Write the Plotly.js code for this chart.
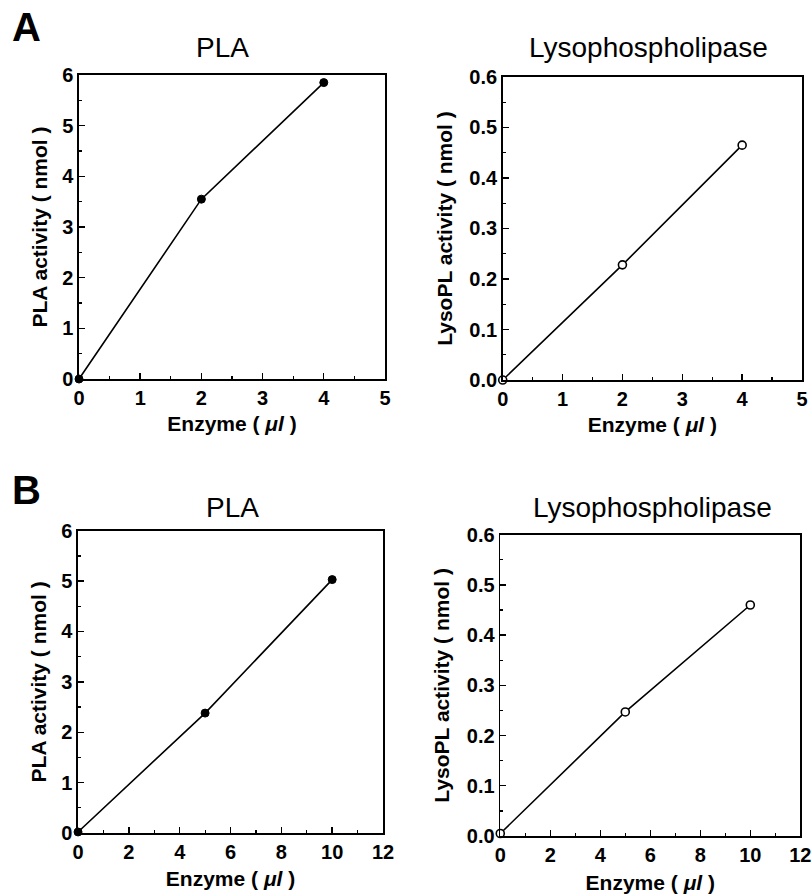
<!DOCTYPE html>
<html>
<head>
<meta charset="utf-8">
<script src="https://cdn.plot.ly/plotly-3.0.1.min.js"></script>
<style>html,body{margin:0;padding:0;background:#fff;}#chart{width:812px;height:895px;}</style>
</head>
<body>
<div id="chart"></div>
<script>
// ---- Data ----
const panelTitles = ["PLA", "Lysophospholipase", "PLA", "Lysophospholipase"];
const panelLetters = ["A", "B"];
const xTitle = "Enzyme ( <i>μl</i> )";
const yTitlePLA = "PLA activity ( nmol )";
const yTitleLyso = "LysoPL activity ( nmol )";

const enzymeA = [0, 2, 4];
const plaA = [0, 3.55, 5.85];
const lysoA = [0, 0.228, 0.465];

const enzymeB = [0, 5, 10];
const plaB = [0.02, 2.38, 5.03];
const lysoB = [0.005, 0.247, 0.46];

const xRangeA = [0, 5];
const xRangeB = [0, 12];
const yRangePLA = [0, 6];
const yRangeLyso = [0, 0.6];

// ---- Styles ----
const FONT = "Liberation Sans, Arial, Helvetica, sans-serif";
const lineStyle = {color: "#000", width: 1.6};
const filled = {symbol: "circle", size: 8, color: "#000", line: {color: "#000", width: 1}};
const open = {symbol: "circle", size: 8, color: "#fff", line: {color: "#000", width: 1.6}};

const traces = [
  {x: enzymeA, y: plaA, xaxis: "x", yaxis: "y", mode: "lines+markers", line: lineStyle, marker: filled, cliponaxis: false},
  {x: enzymeA, y: lysoA, xaxis: "x2", yaxis: "y2", mode: "lines+markers", line: lineStyle, marker: open, cliponaxis: false},
  {x: enzymeB, y: plaB, xaxis: "x3", yaxis: "y3", mode: "lines+markers", line: lineStyle, marker: filled, cliponaxis: false},
  {x: enzymeB, y: lysoB, xaxis: "x4", yaxis: "y4", mode: "lines+markers", line: lineStyle, marker: open, cliponaxis: false}
];

function axis(domain, anchor, range, dtick, minor, fmt, title, standoff) {
  return {
    domain: domain, anchor: anchor, range: range, dtick: dtick, tick0: 0, tickmode: "linear",
    tickformat: fmt,
    showline: true, mirror: true, linecolor: "#000", linewidth: 1.6,
    ticks: "inside", ticklen: 6, tickwidth: 1.4, tickcolor: "#000",
    minor: {ticks: "inside", ticklen: 3, tickwidth: 1.2, dtick: minor, tickcolor: "#000"},
    showgrid: false, zeroline: false, automargin: false, fixedrange: true,
    tickfont: {family: FONT, size: 20, color: "#000", weight: "bold"},
    title: {text: title, standoff: standoff, font: {family: FONT, size: 21, color: "#000", weight: "bold"}}
  };
}

const layout = {
  width: 812, height: 895,
  margin: {l: 0, r: 0, t: 0, b: 0},
  paper_bgcolor: "#fff", plot_bgcolor: "#fff",
  showlegend: false,
  xaxis: axis([0.0973, 0.4741], "y", xRangeA, 1, 0.5, "d", xTitle, 8),
  yaxis: axis([0.5765, 0.9162], "x", yRangePLA, 1, 0.5, "d", yTitlePLA, 9),
  xaxis2: axis([0.6191, 0.9877], "y2", xRangeA, 1, 0.5, "d", xTitle, 8),
  yaxis2: axis([0.5754, 0.9140], "x2", yRangeLyso, 0.1, 0.05, ".1f", yTitleLyso, 11),
  xaxis3: axis([0.0961, 0.4717], "y3", xRangeB, 2, 1, "d", xTitle, 10),
  yaxis3: axis([0.0693, 0.4070], "x3", yRangePLA, 1, 0.5, "d", yTitlePLA, 9),
  xaxis4: axis([0.6161, 0.9856], "y4", xRangeB, 2, 1, "d", xTitle, 10),
  yaxis4: axis([0.0659, 0.4026], "x4", yRangeLyso, 0.1, 0.05, ".1f", yTitleLyso, 11),
  annotations: [
    {text: panelLetters[0], xref: "paper", yref: "paper", x: 10/812, y: 1 - 27/895, xanchor: "left", yanchor: "middle", showarrow: false, font: {family: FONT, size: 40, color: "#000", weight: "bold"}},
    {text: panelLetters[1], xref: "paper", yref: "paper", x: 10/812, y: 1 - 490/895, xanchor: "left", yanchor: "middle", showarrow: false, font: {family: FONT, size: 40, color: "#000", weight: "bold"}},
    {text: panelTitles[0], xref: "paper", yref: "paper", x: 222/812, y: 1 - 47/895, xanchor: "center", yanchor: "middle", showarrow: false, font: {family: FONT, size: 28, color: "#000"}},
    {text: panelTitles[1], xref: "paper", yref: "paper", x: 648/812, y: 1 - 47/895, xanchor: "center", yanchor: "middle", showarrow: false, font: {family: FONT, size: 28, color: "#000"}},
    {text: panelTitles[2], xref: "paper", yref: "paper", x: 232/812, y: 1 - 508/895, xanchor: "center", yanchor: "middle", showarrow: false, font: {family: FONT, size: 28, color: "#000"}},
    {text: panelTitles[3], xref: "paper", yref: "paper", x: 652/812, y: 1 - 508/895, xanchor: "center", yanchor: "middle", showarrow: false, font: {family: FONT, size: 28, color: "#000"}}
  ]
};

Plotly.newPlot("chart", traces, layout, {staticPlot: true});
</script>
</body>
</html>
